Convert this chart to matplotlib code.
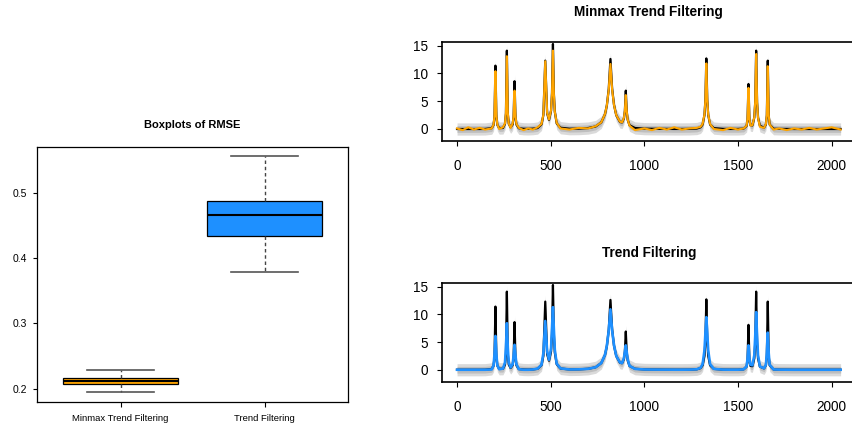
import numpy as np
import matplotlib.pyplot as plt

plt.rcParams['font.family'] = ['Liberation Sans', 'DejaVu Sans']

# RMSE boxplot summaries
methods = ['Minmax Trend Filtering', 'Trend Filtering']
rmse_whislo = [0.1945, 0.3786]
rmse_q1 = [0.2067, 0.4340]
rmse_med = [0.2118, 0.4670]
rmse_q3 = [0.2168, 0.4883]
rmse_whishi = [0.2290, 0.5562]
box_colors = ['#FFA500', '#1E90FF']

# signal index positions
x = [0, 30, 60, 90, 120, 150,
     185, 195, 200, 205, 210, 215, 225,
     245, 256, 261, 266, 271, 276, 286,
     297, 302, 307, 312, 317, 330,
     355, 380, 405, 430,
     451, 461, 471, 481, 491, 502, 507, 512, 517, 522, 532, 552,
     600, 650, 700, 740, 770, 790, 800, 810, 819, 828, 838, 850, 870,
     881, 891, 896, 901, 906, 911, 921, 950,
     1000, 1040, 1080, 1120, 1160, 1200, 1240, 1280,
     1300, 1311, 1321, 1326, 1331, 1336, 1341, 1351, 1371,
     1420, 1460, 1500, 1530,
     1546, 1551, 1556, 1561, 1566, 1577, 1587, 1592, 1597, 1602, 1607, 1617,
     1639, 1649, 1654, 1659, 1664, 1669, 1690,
     1720, 1760, 1800, 1840, 1880, 1920, 1960, 2000, 2048]

# true signal (black)
truth = [0, 0, 0, 0, 0, 0.01,
         0.15, 0.72, 2.25, 11.4, 2.26, 0.73, 0.17,
         0.18, 0.9, 2.8, 14.1, 2.82, 0.93, 0.32,
         0.82, 2.15, 8.6, 2.12, 0.78, 0.13,
         0.04, 0.02, 0.06, 0.17,
         0.83, 2.53, 12.3, 2.79, 1.63, 3.31, 6.47, 15.3, 6.37, 3.1, 1.0, 0.23,
         0.05, 0.07, 0.17, 0.45, 1.2, 2.67, 4.3, 7.25, 12.6, 7.27, 4.33, 2.47, 1.26,
         1.18, 1.9, 3.27, 6.9, 3.15, 1.66, 0.67, 0.18,
         0.06, 0.04, 0.03, 0.02, 0.01, 0.01, 0.02, 0.08,
         0.3, 0.79, 2.51, 5.2, 12.7, 5.2, 2.51, 0.79, 0.16,
         0.02, 0.01, 0.01, 0.07,
         0.55, 1.66, 8.1, 1.73, 0.7, 0.64, 2.05, 4.8, 14.1, 4.8, 2.03, 0.57,
         0.24, 0.81, 2.47, 12.3, 2.46, 0.79, 0.05,
         0.02, 0.01, 0, 0, 0, 0, 0, 0, 0]

# minmax trend filtering fit (orange)
minmax_fit = [0.1, -0.2, 0.3, -0.1, 0.2, -0.1,
              0.1, 0.8, 2.4, 10.4, 2.4, 0.8, 0.0,
              0.3, 1.0, 2.9, 13.1, 2.9, 1.0, 0.2,
              1.0, 2.3, 6.9, 2.3, 0.9, 0.2,
              -0.2, 0.1, -0.1, 0.3,
              0.9, 2.6, 12.2, 2.9, 1.7, 3.4, 6.4, 14.1, 6.3, 3.1, 1.1, 0.1,
              -0.1, 0.2, 0.1, 0.5, 1.2, 2.7, 4.3, 7.1, 11.7, 7.1, 4.3, 2.5, 1.3,
              1.2, 2.0, 3.3, 6.1, 3.2, 1.7, 0.6, -0.2,
              0.1, -0.2, 0.2, -0.1, 0.3, -0.1, 0.1, 0.2,
              0.4, 0.9, 2.6, 5.2, 11.8, 5.2, 2.6, 0.9, 0.0,
              -0.2, 0.2, -0.1, 0.1,
              0.6, 1.8, 7.4, 1.9, 0.6, 0.7, 2.1, 4.9, 13.5, 4.9, 2.0, 0.4,
              0.2, 0.9, 2.5, 11.3, 2.5, 0.8, -0.1,
              0.1, -0.2, 0.1, -0.1, 0.2, -0.1, 0.1, 0.3, -0.1]

# trend filtering fit (blue)
tf_fit = [0, 0, 0, 0, 0, 0,
          0.05, 0.8, 2.8, 6.1, 2.8, 0.8, 0.1,
          0.2, 1.3, 4.0, 8.4, 4.0, 1.3, 0.4,
          1.0, 2.6, 4.5, 2.6, 1.0, 0.1,
          0, 0, 0.05, 0.2,
          0.9, 3.0, 8.8, 3.3, 1.8, 3.9, 7.5, 11.3, 7.3, 3.6, 1.1, 0.25,
          0.05, 0.07, 0.17, 0.45, 1.2, 2.7, 4.4, 7.1, 10.9, 7.1, 4.4, 2.5, 1.3,
          1.2, 2.1, 3.3, 4.4, 3.2, 1.9, 0.7, 0.15,
          0.05, 0.03, 0.02, 0.02, 0.01, 0.01, 0.02, 0.08,
          0.35, 1.0, 3.5, 6.6, 9.5, 6.6, 3.5, 1.0, 0.15,
          0.02, 0.01, 0.01, 0.07,
          0.6, 2.0, 4.4, 2.0, 0.9, 0.8, 2.6, 6.0, 10.4, 6.0, 2.6, 0.6,
          0.25, 0.9, 3.0, 6.7, 3.0, 0.9, 0.05,
          0.02, 0.01, 0, 0, 0, 0, 0, 0, 0]

# spread of the grey observations around the signal (dense core, sparse edge)
noise_core = 0.6
noise_edge = 1.1

fig = plt.figure(figsize=(8.53, 4.30), dpi=100)

# --- left: boxplots ---
ax0 = fig.add_axes([0.0434, 0.0651, 0.3646, 0.5930])
stats = []
for i, m in enumerate(methods):
    stats.append(dict(label=m, whislo=rmse_whislo[i], q1=rmse_q1[i], med=rmse_med[i],
                      q3=rmse_q3[i], whishi=rmse_whishi[i], fliers=[]))
bp = ax0.bxp(stats, positions=[1, 2], widths=0.8, capwidths=0.46, patch_artist=True,
             boxprops=dict(edgecolor='black', linewidth=0.9),
             medianprops=dict(color='black', linewidth=1.5),
             whiskerprops=dict(color='#444444', linestyle=(0, (2.5, 2)), linewidth=1.0),
             capprops=dict(color='#555555', linewidth=1.2))
for patch, c in zip(bp['boxes'], box_colors):
    patch.set_facecolor(c)
ax0.set_xlim(0.42, 2.58)
ax0.set_ylim(0.1795, 0.5705)
ax0.set_yticks([0.2, 0.3, 0.4, 0.5])
ax0.set_yticklabels(['0.2', '0.3', '0.4', '0.5'])
ax0.tick_params(axis='y', labelsize=7.5, length=3, pad=4, width=0.8)
ax0.tick_params(axis='x', labelsize=6.8, length=3.5, pad=5, width=0.8)
for s in ax0.spines.values():
    s.set_linewidth(0.9)
ax0.set_title('Boxplots of RMSE', fontsize=8, fontweight='bold', pad=14)

# --- right: fitted signals ---
xs = np.array(x)
tr = np.array(truth)
panels = [([0.5178, 0.6721, 0.4857, 0.2295], minmax_fit, '#FFA500', 1.5, 'Minmax Trend Filtering'),
          ([0.5178, 0.1123, 0.4857, 0.2288], tf_fit, '#1E90FF', 1.9, 'Trend Filtering')]
for pos, fit, col, lw, title in panels:
    ax = fig.add_axes(pos)
    ax.fill_between(xs, tr - noise_edge, tr + noise_edge, color='#dadada', lw=0)
    ax.fill_between(xs, tr - noise_core, tr + noise_core, color='#bebebe', lw=0)
    ax.plot(xs, tr, color='black', lw=1.6)
    ax.plot(xs, fit, color=col, lw=lw)
    ax.set_xlim(-82, 2130)
    ax.set_ylim(-2.16, 15.6)
    ax.set_xticks([0, 500, 1000, 1500, 2000])
    ax.set_yticks([0, 5, 10, 15])
    ax.tick_params(labelsize=9.8, length=3.5, width=0.8)
    ax.tick_params(axis='y', pad=6.5)
    ax.tick_params(axis='x', pad=9.5)
    for s in ax.spines.values():
        s.set_linewidth(1.2)
    ax.set_title(title, fontsize=9.8, fontweight='bold', pad=19)

fig.savefig('out.png', dpi=100)
